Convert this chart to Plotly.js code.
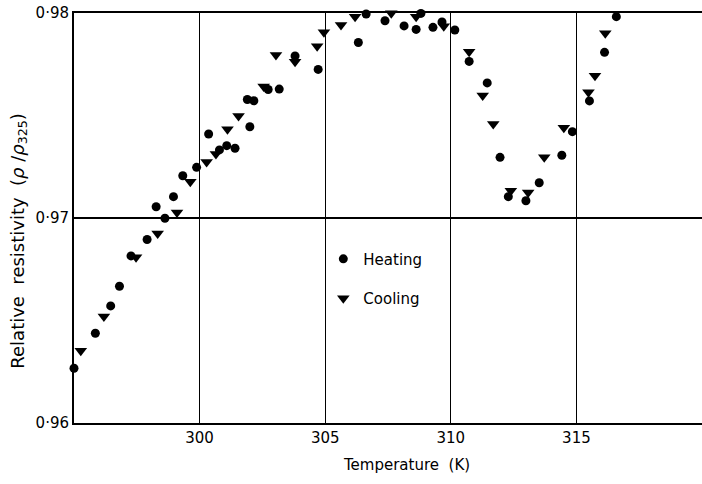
<!DOCTYPE html>
<html>
<head>
<meta charset="utf-8">
<script src="https://cdn.plot.ly/plotly-3.0.1.min.js"></script>
<style>html,body{margin:0;padding:0;background:#fff;}#chart{width:702px;height:484px;}</style>
</head>
<body>
<div id="chart"></div>
<script>
// Heating series: temperature (K) and relative resistivity
const heatingT = [295.00, 295.85, 296.46, 296.81, 297.27, 297.91, 298.27, 298.62, 298.96, 299.33,
  299.88, 300.36, 300.79, 301.08, 301.41, 302.00, 301.90, 302.16, 302.73, 303.17,
  303.80, 304.72, 306.32, 306.63, 307.38, 308.14, 308.62, 308.81, 309.29, 309.65,
  310.16, 310.73, 311.45, 311.96, 312.29, 312.99, 313.52, 314.42, 314.84, 315.52,
  316.12, 316.59];
const heatingR = [0.96267, 0.96438, 0.96571, 0.96667, 0.96815, 0.96895, 0.97055, 0.96999, 0.97104, 0.97206,
  0.97247, 0.97410, 0.97332, 0.97353, 0.97340, 0.97445, 0.97578, 0.97572, 0.97627, 0.97629,
  0.97790, 0.97725, 0.97856, 0.97995, 0.97962, 0.97937, 0.97920, 0.97998, 0.97930, 0.97956,
  0.97917, 0.97764, 0.97659, 0.97296, 0.97104, 0.97084, 0.97172, 0.97306, 0.97421, 0.97571,
  0.97808, 0.97982];

// Cooling series
const coolingT = [295.27, 296.19, 297.47, 298.33, 299.10, 299.63, 300.28, 300.65, 301.11, 301.55,
  302.55, 303.04, 303.80, 304.68, 304.95, 305.63, 306.19, 306.93, 307.63, 308.62,
  309.21, 309.72, 310.73, 311.27, 311.69, 312.39, 313.08, 313.72, 314.50, 315.48,
  315.74, 316.15, 316.59];
const coolingR = [0.96353, 0.96519, 0.96808, 0.96925, 0.97027, 0.97177, 0.97273, 0.97312, 0.97433, 0.97498,
  0.97641, 0.97795, 0.97762, 0.97838, 0.97906, 0.97941, 0.97982, 0.98010, 0.97999, 0.97982,
  0.98017, 0.97935, 0.97811, 0.97598, 0.97459, 0.97133, 0.97125, 0.97296, 0.97440, 0.97614,
  0.97694, 0.97901, 0.98006];

const xTicks = [300, 305, 310, 315];
const yTicks = [0.96, 0.97, 0.98];
const yTickText = ['0·96', '0·97', '0·98'];

const FONT = 'DejaVu Sans, sans-serif';
const SP = '\u00a0\u00a0';

const traces = [
  {x: heatingT, y: heatingR, name: 'Heating', type: 'scatter', mode: 'markers',
   legendgroup: 'h', cliponaxis: false,
   marker: {symbol: 'circle', size: 9, color: '#000'}},
  {x: coolingT, y: coolingR, name: 'Cooling', type: 'scatter', mode: 'markers',
   legendgroup: 'c', cliponaxis: false,
   marker: {symbol: 'triangle-down', size: 11, color: '#000'}}
];

const layout = {
  width: 702, height: 484,
  margin: {l: 74, r: 0, t: 13, b: 61},
  paper_bgcolor: '#fff', plot_bgcolor: '#fff',
  font: {family: FONT, size: 15, color: '#000'},
  showlegend: true,
  legend: {x: 0.397, y: 0.44, xanchor: 'left', yanchor: 'top',
    bgcolor: 'rgba(0,0,0,0)', font: {family: FONT, size: 15, color: '#000'},
    traceorder: 'grouped', tracegroupgap: 17, itemwidth: 30},
  xaxis: {range: [295, 320], tickvals: xTicks, ticktext: xTicks.map(String),
    showgrid: true, gridcolor: '#000', gridwidth: 1,
    showline: true, linecolor: '#000', linewidth: 2, mirror: true,
    ticks: '', zeroline: false, tickfont: {family: FONT, size: 15, color: '#000'}},
  yaxis: {range: [0.96, 0.98], tickvals: yTicks, ticktext: yTickText,
    showgrid: true, gridcolor: '#000', gridwidth: 1.5,
    showline: true, linecolor: '#000', linewidth: 2, mirror: false,
    ticks: '', zeroline: false, tickfont: {family: FONT, size: 15, color: '#000'}},
  annotations: [
    {text: 'Temperature\u00a0 (K)', xref: 'paper', yref: 'paper', x: 0.530, y: -0.102,
     xanchor: 'center', yanchor: 'middle', showarrow: false,
     font: {family: FONT, size: 15, color: '#000'}},
    {text: 'Relative' + SP + 'resistivity' + SP + '(<i>ρ</i> /<i>ρ</i><sub>325</sub>)', xref: 'paper', yref: 'paper',
     x: -0.089, y: 0.445, textangle: -90, xanchor: 'center', yanchor: 'middle', showarrow: false,
     font: {family: FONT, size: 18, color: '#000'}}
  ]
};

Plotly.newPlot('chart', traces, layout, {displayModeBar: false, staticPlot: true});
</script>
</body>
</html>
